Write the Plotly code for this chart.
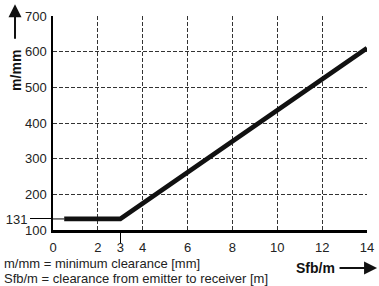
import plotly.graph_objects as go

# Data
sfb_m = [0.5, 3, 14]
clearance_mm = [131, 131, 610]
connector_x = [0, 0.5]
connector_y = [131, 131]

x_ticks = [0, 2, 3, 4, 6, 8, 10, 12, 14]
x_grid = [2, 4, 6, 8, 10, 12, 14]
y_ticks = [100, 200, 300, 400, 500, 600, 700]
y_grid = [200, 300, 400, 500, 600, 700]
y_mark = [131]
x_mark = [3]

FONT = "Liberation Sans, Arial, sans-serif"

fig = go.Figure()
fig.add_trace(go.Scatter(x=connector_x, y=connector_y, mode="lines",
                         line=dict(color="black", width=1), xaxis="x2", yaxis="y2",
                         hoverinfo="skip", showlegend=False))
fig.add_trace(go.Scatter(x=sfb_m, y=clearance_mm, mode="lines",
                         line=dict(color="#111", width=4.8), showlegend=False))

grid_common = dict(showgrid=True, gridcolor="#333", gridwidth=1, griddash="4px,2px")

fig.update_layout(
    width=379, height=286,
    margin=dict(l=53, r=12, t=16, b=56, autoexpand=False),
    paper_bgcolor="white", plot_bgcolor="white",
    font=dict(family=FONT, size=13, color="#222"),
    xaxis=dict(range=[0, 14], tickmode="array", tickvals=x_ticks,
               ticktext=[str(v) for v in x_ticks], showgrid=False, automargin=False,
               zeroline=False, showline=True, linecolor="black", linewidth=3,
               ticks="", ticklabelstandoff=3,
               minor=dict(tickvals=x_grid, ticks="", **grid_common)),
    yaxis=dict(range=[100, 700], tickmode="array", tickvals=y_ticks, automargin=False,
               showgrid=False, zeroline=False, showline=True, linecolor="black",
               linewidth=1.5, ticks="", ticklabelstandoff=2,
               minor=dict(tickvals=y_grid, ticks="", **grid_common)),
    xaxis2=dict(range=[0, 14], overlaying="x", anchor="y2", side="bottom",
                tickmode="array", tickvals=x_mark, showticklabels=False, automargin=False,
                ticks="outside", ticklen=12, tickwidth=1, tickcolor="black",
                showgrid=False, zeroline=False, showline=False),
    yaxis2=dict(range=[100, 700], overlaying="y", anchor="x2", side="left",
                tickmode="array", tickvals=y_mark, ticktext=["131"], automargin=False,
                ticks="outside", ticklen=22, tickwidth=1, tickcolor="black",
                showgrid=False, zeroline=False, showline=False),
)

fig.add_annotation(xref="paper", yref="paper", x=-0.118, y=0.748,
                   xanchor="center", yanchor="middle",
                   text="<b>m/mm</b>", textangle=-90, showarrow=False,
                   font=dict(family=FONT, size=14, color="#111"))
fig.add_annotation(xref="paper", yref="paper", x=-0.121, y=1.055,
                   ax=0, ay=36, text="", showarrow=True, arrowhead=2,
                   arrowsize=1.3, arrowwidth=2, arrowcolor="#111")
fig.add_annotation(xref="paper", yref="paper", x=0.836, y=-0.178,
                   xanchor="center", yanchor="middle",
                   text="<b>Sfb/m</b>", showarrow=False,
                   font=dict(family=FONT, size=14, color="#111"))
fig.add_annotation(xref="paper", yref="paper", x=1.032, y=-0.178,
                   ax=-39, ay=0, text="", showarrow=True, arrowhead=2,
                   arrowsize=1.3, arrowwidth=2, arrowcolor="#111")
fig.add_annotation(xref="paper", yref="paper", x=-0.162, y=-0.155,
                   xanchor="left", yanchor="middle", text="m/mm = minimum clearance [mm]",
                   showarrow=False, font=dict(family=FONT, size=13, color="#222"))
fig.add_annotation(xref="paper", yref="paper", x=-0.162, y=-0.226,
                   xanchor="left", yanchor="middle",
                   text="Sfb/m = clearance from emitter to receiver [m]",
                   showarrow=False, font=dict(family=FONT, size=13, color="#222"))

fig.write_html("out.html", config={"displayModeBar": False},
               post_script="document.body.style.margin='0';")
